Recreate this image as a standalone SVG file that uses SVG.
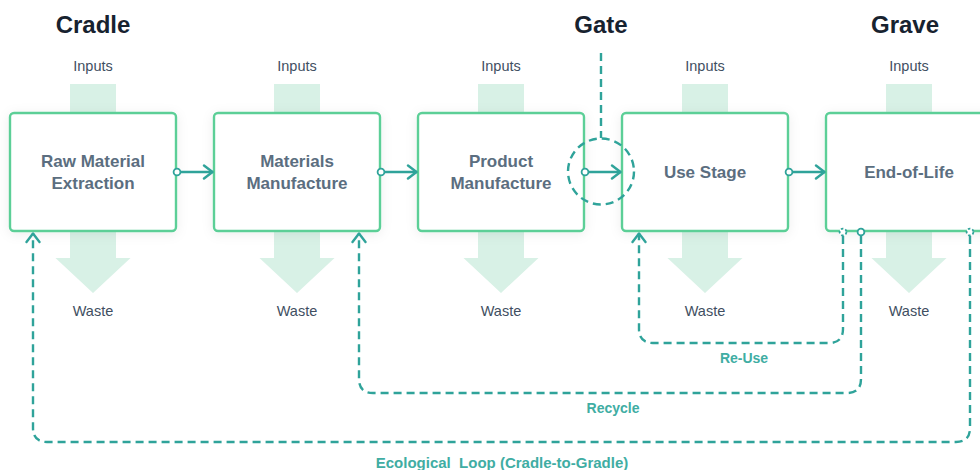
<svg xmlns="http://www.w3.org/2000/svg" width="980" height="470" viewBox="0 0 980 470">
  <defs>
    <filter id="soft" x="-20%" y="-30%" width="140%" height="160%">
      <feDropShadow dx="0" dy="2" stdDeviation="6" flood-color="#000" flood-opacity="0.07"/>
    </filter>
    <marker id="head" viewBox="0 0 12 16" refX="11" refY="8" markerWidth="12" markerHeight="16" markerUnits="userSpaceOnUse" orient="auto">
      <path d="M2,1.5 L10.5,8 L2,14.5" fill="none" stroke="#2fa39a" stroke-width="2.4" stroke-linecap="round" stroke-linejoin="round"/>
    </marker>
    <marker id="dot" viewBox="0 0 10 10" refX="5" refY="5" markerWidth="10" markerHeight="10" markerUnits="userSpaceOnUse">
      <circle cx="5" cy="5" r="3.4" fill="#fff" stroke="#2fa39a" stroke-width="1.8"/>
    </marker>
  </defs>
  <style>
    .title{font-family:"Liberation Sans",Arial,sans-serif;font-weight:bold;font-size:24px;fill:#17222f;text-anchor:middle}
    .io{font-family:"Liberation Sans",Arial,sans-serif;font-size:14.5px;fill:#3f4f62;text-anchor:middle}
    .lbl{font-family:"Liberation Sans",Arial,sans-serif;font-weight:bold;font-size:17px;fill:#5b6e80;text-anchor:middle}
    .loop{font-family:"Liberation Sans",Arial,sans-serif;font-weight:bold;font-size:14px;fill:#40ada3;text-anchor:middle}
    .loop.wide{font-size:15px}
    .box{fill:#fff;stroke:#5ccf97;stroke-width:2.4}
    .flow{fill:#d8f1e6}
    .link{fill:none;stroke:#2fa39a;stroke-width:2.4}
    .dash{fill:none;stroke:#2fa39a;stroke-width:2.4;stroke-dasharray:8 5}
  </style>

  <!-- stage headings -->
  <text class="title" x="93" y="33">Cradle</text>
  <text class="title" x="601" y="33">Gate</text>
  <text class="title" x="905" y="33">Grave</text>

  <!-- input / waste flows -->
  <g id="flows">
    <g transform="translate(93,0)">
      <rect class="flow" x="-23" y="84" width="46" height="30"/>
      <path class="flow" d="M-23,231 H23 V258 H37.5 L0,293 L-37.5,258 H-23 Z"/>
      <text class="io" x="0" y="71">Inputs</text>
      <text class="io" x="0" y="316">Waste</text>
    </g>
    <g transform="translate(297,0)">
      <rect class="flow" x="-23" y="84" width="46" height="30"/>
      <path class="flow" d="M-23,231 H23 V258 H37.5 L0,293 L-37.5,258 H-23 Z"/>
      <text class="io" x="0" y="71">Inputs</text>
      <text class="io" x="0" y="316">Waste</text>
    </g>
    <g transform="translate(501,0)">
      <rect class="flow" x="-23" y="84" width="46" height="30"/>
      <path class="flow" d="M-23,231 H23 V258 H37.5 L0,293 L-37.5,258 H-23 Z"/>
      <text class="io" x="0" y="71">Inputs</text>
      <text class="io" x="0" y="316">Waste</text>
    </g>
    <g transform="translate(705,0)">
      <rect class="flow" x="-23" y="84" width="46" height="30"/>
      <path class="flow" d="M-23,231 H23 V258 H37.5 L0,293 L-37.5,258 H-23 Z"/>
      <text class="io" x="0" y="71">Inputs</text>
      <text class="io" x="0" y="316">Waste</text>
    </g>
    <g transform="translate(909,0)">
      <rect class="flow" x="-23" y="84" width="46" height="30"/>
      <path class="flow" d="M-23,231 H23 V258 H37.5 L0,293 L-37.5,258 H-23 Z"/>
      <text class="io" x="0" y="71">Inputs</text>
      <text class="io" x="0" y="316">Waste</text>
    </g>
  </g>

  <!-- stages -->
  <g id="raw-material-extraction">
    <rect class="box" x="10" y="113" width="166" height="118" rx="4" filter="url(#soft)"/>
    <text class="lbl" x="93" y="167">Raw Material</text>
    <text class="lbl" x="93" y="189">Extraction</text>
  </g>
  <g id="materials-manufacture">
    <rect class="box" x="214" y="113" width="166" height="118" rx="4" filter="url(#soft)"/>
    <text class="lbl" x="297" y="167">Materials</text>
    <text class="lbl" x="297" y="189">Manufacture</text>
  </g>
  <g id="product-manufacture">
    <rect class="box" x="418" y="113" width="166" height="118" rx="4" filter="url(#soft)"/>
    <text class="lbl" x="501" y="167">Product</text>
    <text class="lbl" x="501" y="189">Manufacture</text>
  </g>
  <g id="use-stage">
    <rect class="box" x="622" y="113" width="166" height="118" rx="4" filter="url(#soft)"/>
    <text class="lbl" x="705" y="178">Use Stage</text>
  </g>
  <g id="end-of-life">
    <rect class="box" x="826" y="113" width="167" height="118" rx="4" filter="url(#soft)"/>
    <text class="lbl" x="909" y="178">End-of-Life</text>
  </g>

  <!-- gate marker -->
  <g id="gate">
    <path class="dash" d="M601,53 V138"/>
    <circle class="dash" cx="601" cy="171.5" r="33"/>
  </g>

  <!-- connectors -->
  <g id="connectors">
    <path class="link" d="M177,172 H213" marker-start="url(#dot)" marker-end="url(#head)"/>
    <path class="link" d="M381,172 H417" marker-start="url(#dot)" marker-end="url(#head)"/>
    <path class="link" d="M585,172 H621" marker-start="url(#dot)" marker-end="url(#head)"/>
    <path class="link" d="M789,172 H825" marker-start="url(#dot)" marker-end="url(#head)"/>

    <!-- re-use loop -->
    <path class="dash" d="M843,236 V329 Q843,343 829,343 H653 Q639,343 639,329 V233" marker-end="url(#head)"/>
    <circle cx="843" cy="232" r="3.4" fill="#fff" stroke="#2fa39a" stroke-width="1.8" stroke-dasharray="2.5 2"/>
    <!-- recycle loop -->
    <path class="dash" d="M861,236 V379 Q861,393 847,393 H373 Q359,393 359,379 V233" marker-end="url(#head)"/>
    <circle cx="861" cy="232" r="3.4" fill="#fff" stroke="#2fa39a" stroke-width="1.8"/>
    <!-- ecological loop -->
    <path class="dash" d="M970,236 V428 Q970,442 956,442 H47 Q33,442 33,428 V233" marker-end="url(#head)"/>
    <circle cx="970" cy="232" r="3.4" fill="#fff" stroke="#2fa39a" stroke-width="1.8" stroke-dasharray="2.5 2"/>

    <text class="loop" x="744" y="363">Re-Use</text>
    <text class="loop" x="613" y="413">Recycle</text>
    <text class="loop wide" x="502" y="468" xml:space="preserve">Ecological  Loop (Cradle-to-Gradle)</text>
  </g>
</svg>
